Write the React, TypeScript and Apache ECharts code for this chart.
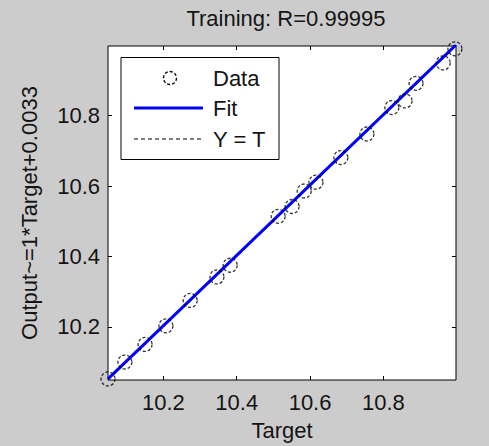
import React, { useEffect, useRef } from "react";
import * as echarts from "echarts";

const targets = [10.049, 10.095, 10.150, 10.207, 10.273, 10.346, 10.382, 10.513, 10.551, 10.584, 10.616, 10.684, 10.755, 10.823, 10.859, 10.889, 10.963, 10.995];
const outputs = [10.052, 10.100, 10.150, 10.203, 10.275, 10.342, 10.375, 10.514, 10.542, 10.586, 10.611, 10.681, 10.748, 10.823, 10.842, 10.892, 10.950, 10.990];
const fitLine = [[10.049, 10.052], [10.998, 11.001]];
const identityLine = [[10.049, 10.049], [10.998, 10.998]];
const tickValues = [10.2, 10.4, 10.6, 10.8];
const axisMin = 10.049;
const axisMax = 10.998;
const titleText = "Training: R=0.99995";
const yName = "Output~=1*Target+0.0033";
const xName = "Target";
const legendLabels = ["Data", "Fit", "Y = T"];

const FONT = "'Liberation Sans', Arial, sans-serif";
const FS = 22;
const TXT = "#141414";

export default function App() {
  const ref = useRef<HTMLDivElement>(null);
  useEffect(() => {
    if (!ref.current) return;
    const chart = echarts.init(ref.current, undefined, { renderer: "svg" });
    const baseAxis = {
      type: "value",
      min: axisMin,
      max: axisMax,
      splitLine: { show: false },
      axisLine: { show: false },
    };
    const tick = { show: true, inside: true, length: 4, lineStyle: { color: "#000" }, customValues: tickValues };
    chart.setOption({
      animation: false,
      backgroundColor: "#cccccc",
      textStyle: { fontFamily: FONT },
      grid: {
        left: 108,
        top: 46,
        right: 33,
        bottom: 66,
        show: true,
        backgroundColor: "#ffffff",
        borderColor: "#000000",
        borderWidth: 1,
      },
      xAxis: [
        {
          ...baseAxis,
          position: "bottom",
          name: xName,
          nameLocation: "middle",
          nameGap: 39,
          nameTextStyle: { fontSize: FS, color: TXT, fontFamily: FONT },
          axisTick: tick,
          axisLabel: { show: true, fontSize: FS, color: TXT, fontFamily: FONT, margin: 11, customValues: tickValues, formatter: (v: number) => v.toFixed(1) },
        },
        {
          ...baseAxis,
          position: "top",
          axisTick: tick,
          axisLabel: { show: false },
        },
      ],
      yAxis: [
        {
          ...baseAxis,
          position: "left",
          name: yName,
          nameLocation: "middle",
          nameGap: 68,
          nameRotate: 90,
          nameTextStyle: { fontSize: FS, color: TXT, fontFamily: FONT },
          axisTick: tick,
          axisLabel: { show: true, fontSize: FS, color: TXT, fontFamily: FONT, margin: 8, customValues: tickValues, formatter: (v: number) => v.toFixed(1) },
        },
        {
          ...baseAxis,
          position: "right",
          axisTick: tick,
          axisLabel: { show: false },
        },
      ],
      title: {
        text: titleText,
        left: 281,
        top: 2,
        textAlign: "center",
        textStyle: { fontSize: FS, fontWeight: "normal", color: TXT, fontFamily: FONT },
      },
      series: [
        {
          type: "line",
          data: identityLine,
          symbol: "none",
          lineStyle: { color: "#000", width: 1, type: [4, 3] },
          z: 2,
        },
        {
          type: "line",
          data: fitLine,
          symbol: "none",
          clip: true,
          lineStyle: { color: "#0000ff", width: 3 },
          z: 3,
        },
        {
          type: "scatter",
          data: targets.map((t, i) => [t, outputs[i]]),
          symbol: "circle",
          symbolSize: 14,
          clip: false,
          itemStyle: { color: "rgba(0,0,0,0)", borderColor: "#000", borderWidth: 1.3, borderType: [3, 2] },
          z: 4,
        },
      ],
      graphic: [
        {
          type: "group",
          z: 100,
          children: [
            { type: "rect", shape: { x: 121, y: 57.5, width: 158, height: 102 }, style: { fill: "#fff", stroke: "#000", lineWidth: 1 } },
            { type: "circle", shape: { cx: 170, cy: 78, r: 6.5 }, style: { fill: "none", stroke: "#000", lineWidth: 1.3, lineDash: [3, 2] } },
            { type: "text", x: 213, y: 78, style: { text: legendLabels[0], fontSize: FS, fontFamily: FONT, fill: TXT, align: "left", verticalAlign: "middle" } },
            { type: "line", shape: { x1: 134, y1: 108, x2: 203, y2: 108 }, style: { stroke: "#0000ff", lineWidth: 3 } },
            { type: "text", x: 213, y: 108, style: { text: legendLabels[1], fontSize: FS, fontFamily: FONT, fill: TXT, align: "left", verticalAlign: "middle" } },
            { type: "line", shape: { x1: 134, y1: 139, x2: 203, y2: 139 }, style: { stroke: "#000", lineWidth: 1, lineDash: [4, 3] } },
            { type: "text", x: 213, y: 139, style: { text: legendLabels[2], fontSize: FS, fontFamily: FONT, fill: TXT, align: "left", verticalAlign: "middle" } },
          ],
        },
      ],
    });
    return () => chart.dispose();
  }, []);
  return <div ref={ref} style={{ width: 489, height: 446, position: "fixed", left: 0, top: 0 }} />;
}
